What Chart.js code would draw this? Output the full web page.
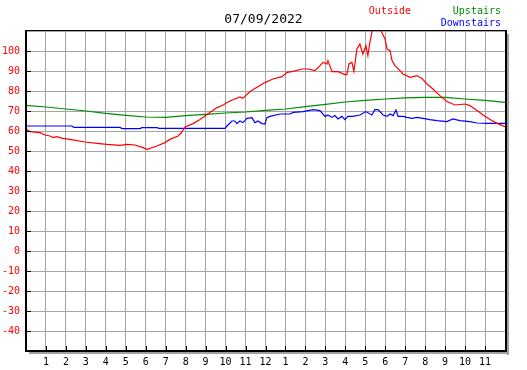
<!DOCTYPE html>
<html>
<head>
<meta charset="utf-8">
<script src="https://cdn.jsdelivr.net/npm/chart.js@4/dist/chart.umd.min.js"></script>
<style>
  body { margin: 0; background: #fff; }
  #wrap { position: relative; width: 527px; height: 370px; }
  .txt { position: absolute; font-family: "DejaVu Sans Mono", monospace; white-space: nowrap; }
  #title { left: 0; width: 527px; top: 11px; text-align: center; font-size: 13px; color: #000; }
  #lgOut { right: 116px; top: 5px; font-size: 10px; color: #ff0000; }
  #lgUp { right: 26px; top: 5px; font-size: 10px; color: #008c00; }
  #lgDown { right: 26px; top: 17px; font-size: 10px; color: #0000ff; }
</style>
</head>
<body>
<div id="wrap">
  <canvas id="tempChart" width="527" height="370"></canvas>
  <div class="txt" id="title">07/09/2022</div>
  <div class="txt" id="lgOut">Outside</div>
  <div class="txt" id="lgUp">Upstairs</div>
  <div class="txt" id="lgDown">Downstairs</div>
</div>
<script>
// hours since midnight, temperatures in F
const outsideHours = [0, 0.20, 0.70, 0.95, 1.20, 1.35, 1.55, 1.85, 2.20, 2.96, 3.56, 4.06, 4.71, 5.06, 5.46, 5.86, 6.06, 6.56, 6.96, 7.21, 7.62, 7.77, 7.97, 8.37, 8.72, 9.07, 9.57, 9.87, 10.22, 10.72, 10.87, 11.22, 11.72, 11.97, 12.37, 12.83, 13.08, 13.38, 13.83, 14.13, 14.48, 14.73, 14.88, 15.08, 15.13, 15.33, 15.63, 15.98, 16.08, 16.18, 16.33, 16.43, 16.58, 16.73, 16.88, 17.03, 17.13, 17.23, 17.33, 17.48, 17.69, 17.79, 17.99, 18.09, 18.24, 18.34, 18.49, 18.74, 18.89, 19.24, 19.59, 19.84, 20.09, 20.39, 20.74, 21.09, 21.49, 21.99, 22.24, 22.60, 22.90, 23.25, 23.60, 24.0];
const outsideTemps = [60.8, 59.7, 59.2, 58, 57.5, 56.7, 57.2, 56.3, 55.8, 54.5, 53.8, 53.3, 52.8, 53.3, 53, 51.7, 50.8, 52.5, 54.2, 55.8, 57.5, 59, 62, 63.7, 65.8, 68.3, 71.7, 73, 75, 77, 76.3, 79.7, 82.8, 84.2, 86, 87.2, 89.3, 89.8, 91, 91, 90.2, 92.7, 94.3, 93.5, 95.2, 89.7, 89.7, 88.2, 88.2, 93.5, 94.3, 89.8, 101, 103.5, 98.5, 102.7, 97.7, 104.3, 109.3, 113, 111, 110, 106, 101, 100.2, 95.2, 92.7, 90.2, 88.5, 86.8, 87.7, 86.3, 83.5, 81, 77.7, 74.7, 73, 73.5, 72.7, 70.2, 68, 65.7, 63.8, 62.2];

const upstairsHours = [0, 1, 2, 3, 4, 5, 6, 7, 8, 9, 10, 11, 12, 13, 14, 15, 16, 17, 18, 19, 20, 21, 22, 23, 24];
const upstairsTemps = [72.8, 72, 71, 70, 68.8, 67.8, 67, 66.8, 67.7, 68.3, 69, 69.5, 70.3, 71, 72.2, 73.3, 74.5, 75.3, 76, 76.6, 76.8, 76.8, 76, 75.3, 74.3];

const downstairsHours = [0, 2.30, 2.40, 4.71, 4.81, 5.71, 5.81, 6.56, 6.66, 9.97, 10.07, 10.32, 10.47, 10.57, 10.72, 10.87, 11.07, 11.32, 11.47, 11.62, 11.82, 11.97, 12.07, 12.22, 12.73, 13.23, 13.38, 13.88, 14.38, 14.73, 14.98, 15.13, 15.33, 15.48, 15.63, 15.83, 15.98, 16.13, 16.38, 16.73, 17.03, 17.33, 17.48, 17.64, 17.89, 18.09, 18.24, 18.39, 18.54, 18.64, 18.89, 19.09, 19.34, 19.59, 19.89, 20.24, 20.59, 21.09, 21.39, 21.74, 22.24, 22.60, 23.10, 24];
const downstairsTemps = [62.5, 62.5, 61.8, 61.8, 61.2, 61.2, 61.7, 61.7, 61.3, 61.3, 62.5, 65, 65, 63.7, 65, 64.2, 66.3, 66.7, 64.2, 65, 63.7, 63.5, 66.7, 67.3, 68.5, 68.5, 69.3, 69.7, 70.7, 70.2, 67.3, 68, 66.8, 67.7, 66, 67.3, 65.7, 67.3, 67.3, 68, 69.7, 68, 70.7, 70.7, 68, 67.3, 68.5, 67.7, 70.5, 67.3, 67.3, 66.8, 66.3, 66.8, 66.3, 65.7, 65.2, 64.7, 66, 65.2, 64.7, 64, 63.8, 63.8];

const yTicks = [-40, -30, -20, -10, 0, 10, 20, 30, 40, 50, 60, 70, 80, 90, 100];
const hourLabels = ['', '1', '2', '3', '4', '5', '6', '7', '8', '9', '10', '11', '12', '1', '2', '3', '4', '5', '6', '7', '8', '9', '10', '11', ''];

function pairs(xs, ys) {
  return xs.map((x, i) => ({ x: x, y: ys[i] }))
}

const mono = { family: "'DejaVu Sans Mono', monospace", size: 10 }

// black frame with a grey drop shadow and short inside ticks
const framePlugin = {
  id: 'frame',
  afterDraw(chart) {
    const ctx = chart.ctx
    const a = chart.chartArea
    const xs = chart.scales.x
    const ys = chart.scales.y
    const w = a.right - a.left
    const h = a.bottom - a.top
    ctx.save()
    ctx.fillStyle = '#a0a0a0'
    ctx.fillRect(a.right + 2, a.top + 3, 2, h + 1)
    ctx.fillRect(a.left + 3, a.bottom + 1, w + 1, 2)
    ctx.fillStyle = '#000'
    ctx.fillRect(a.left - 1, a.top - 1, w + 3, 1)
    ctx.fillRect(a.left - 1, a.top - 1, 2, h + 2)
    ctx.fillRect(a.left - 1, a.bottom - 1, w + 3, 2)
    ctx.fillRect(a.right, a.top - 1, 2, h + 2)
    yTicks.forEach(v => {
      const py = Math.round(ys.getPixelForValue(v))
      ctx.fillRect(a.left, py, 5, 1)
    })
    for (let hr = 1; hr < 24; hr++) {
      const px = Math.round(xs.getPixelForValue(hr))
      ctx.fillRect(px, a.bottom - 5, 1, 5)
    }
    ctx.restore()
  }
}

new Chart('tempChart', {
  type: 'line',
  data: {
    datasets: [
      { label: 'Outside', data: pairs(outsideHours, outsideTemps), borderColor: '#ff0000' },
      { label: 'Upstairs', data: pairs(upstairsHours, upstairsTemps), borderColor: '#008c00' },
      { label: 'Downstairs', data: pairs(downstairsHours, downstairsTemps), borderColor: '#0000ff' }
    ]
  },
  options: {
    responsive: false,
    animation: false,
    events: [],
    elements: {
      line: { borderWidth: 1.2, tension: 0 },
      point: { radius: 0 }
    },
    layout: { padding: { top: 31, right: 22, left: 0, bottom: 0 } },
    plugins: {
      legend: { display: false },
      title: { display: false },
      tooltip: { enabled: false }
    },
    scales: {
      x: {
        type: 'linear',
        min: 0,
        max: 24,
        grid: { color: '#a4a4a4', drawTicks: false },
        border: { display: false },
        ticks: {
          stepSize: 1,
          autoSkip: false,
          maxRotation: 0,
          padding: 5,
          color: '#000',
          font: mono,
          callback: v => hourLabels[v]
        },
        afterFit(scale) { scale.height = 19 }
      },
      y: {
        min: -50,
        max: 110,
        grid: { color: '#a4a4a4', drawTicks: false },
        border: { display: false },
        ticks: {
          stepSize: 10,
          padding: 6,
          color: '#ff0000',
          font: mono,
          callback: v => yTicks.includes(v) ? String(v) : ''
        },
        afterFit(scale) { scale.width = 26 }
      }
    }
  },
  plugins: [framePlugin]
})
</script>
</body>
</html>
